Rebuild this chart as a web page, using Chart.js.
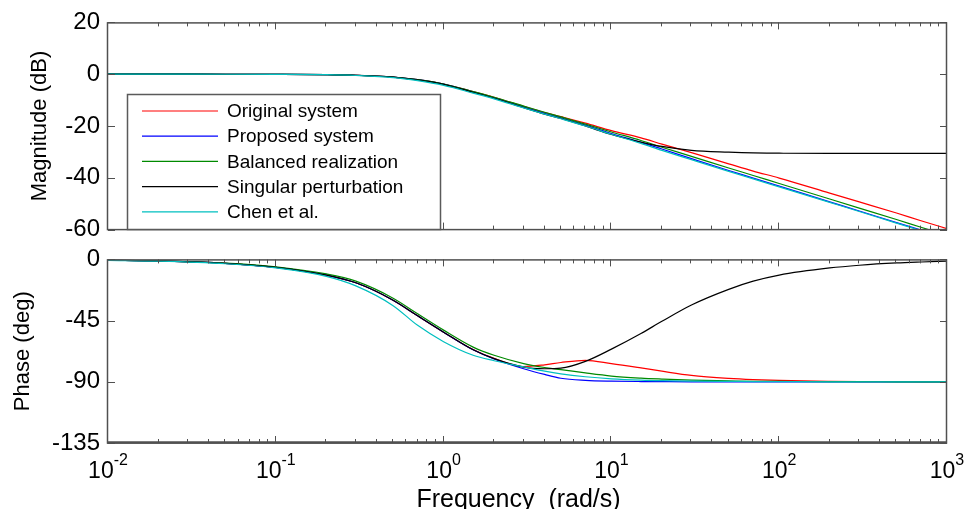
<!DOCTYPE html>
<html><head><meta charset="utf-8">
<script src="https://cdn.jsdelivr.net/npm/chart.js@4.4.0/dist/chart.umd.min.js"></script>
<style>
html,body{margin:0;padding:0;background:#fff;}
#wrap{position:relative;width:970px;height:509px;overflow:hidden;background:#fff;}
#c1{position:absolute;left:0;top:0;}
#c2{position:absolute;left:0;top:237px;}
</style></head><body>
<div id="wrap"><canvas id="c1" width="970" height="252"></canvas><canvas id="c2" width="970" height="272"></canvas></div>
<script>
// ---------------- data ----------------
const freq = [0.01, 0.02, 0.05, 0.1, 0.2, 0.3, 0.5, 0.7, 1, 1.5, 2, 3, 4, 5, 7, 10, 15, 20, 30, 50, 70, 100, 200, 300, 500, 700, 1000];

const magOriginal = [0, 0, -0.01, -0.04, -0.17, -0.4, -1.1, -2.1, -3.8, -6.7, -8.9, -12.4, -14.8, -16.4, -18.9, -21.8, -24.6, -27.0, -30.3, -34.6, -37.4, -40.1, -45.9, -49.3, -53.6, -56.6, -59.6];
const magProposed = [0, 0, -0.01, -0.04, -0.17, -0.4, -1.1, -2.1, -3.8, -6.8, -9.1, -12.7, -15.1, -16.8, -19.6, -22.9, -26.3, -28.9, -32.6, -37.2, -40.1, -43.2, -49.3, -52.8, -57.3, -60.2, -63.3];
const magBalanced = [0, 0, -0.01, -0.04, -0.17, -0.4, -1.1, -2.1, -3.8, -6.7, -8.9, -12.3, -14.7, -16.5, -19.3, -22.3, -25.6, -28.2, -31.7, -36.2, -39.1, -42.2, -48.2, -51.7, -56.1, -59.1, -62.2];
const magSingular = [0, 0, -0.01, -0.04, -0.17, -0.4, -1.1, -2.2, -3.9, -7.0, -9.3, -12.9, -15.4, -17.1, -20.0, -23.3, -26.2, -27.9, -29.4, -30.1, -30.4, -30.5, -30.6, -30.6, -30.6, -30.6, -30.6];
const magChen     = [0, 0, -0.01, -0.05, -0.2, -0.5, -1.3, -2.5, -4.3, -7.3, -9.5, -13.0, -15.4, -17.2, -20.0, -23.2, -26.7, -29.4, -33.0, -37.5, -40.4, -43.5, -49.5, -53.0, -57.5, -60.4, -63.5];

const phOriginal = [-0.6, -1.2, -2.9, -5.8, -11.5, -17.2, -30.0, -41.5, -53.5, -66.3, -72.8, -78.8, -77.5, -75.8, -74.2, -76.6, -79.8, -82.2, -85.3, -87.5, -88.4, -89.0, -89.6, -89.8, -89.9, -90.0, -90.0];
const phProposed = [-0.6, -1.2, -2.9, -5.8, -11.5, -17.2, -30.0, -41.5, -53.5, -66.5, -73.2, -80.4, -84.6, -87.4, -88.9, -89.5, -89.8, -89.9, -90.0, -90.0, -90.0, -90.0, -90.0, -90.0, -90.0, -90.0, -90.0];
const phBalanced = [-0.5, -1.1, -2.7, -5.4, -10.7, -16.0, -28.5, -40.0, -52.0, -64.5, -70.5, -76.6, -79.5, -81.0, -83.5, -85.8, -87.3, -88.0, -88.8, -89.3, -89.6, -89.7, -89.9, -89.9, -90.0, -90.0, -90.0];
const phSingular = [-0.6, -1.2, -2.9, -5.8, -11.5, -17.2, -30.0, -41.5, -53.5, -66.5, -73.0, -79.2, -80.4, -80.0, -75.0, -66.0, -54.5, -45.5, -33.5, -22.0, -16.0, -11.5, -6.3, -4.3, -2.6, -1.9, -1.3];
const phChen     = [-0.7, -1.3, -3.2, -6.3, -12.5, -19.5, -34.0, -48.5, -60.5, -70.5, -74.5, -79.0, -82.2, -84.2, -86.3, -87.8, -88.8, -89.2, -89.5, -89.7, -89.8, -89.9, -90.0, -90.0, -90.0, -90.0, -90.0];

const seriesNames  = ['Original system', 'Proposed system', 'Balanced realization', 'Singular perturbation', 'Chen et al.'];
const seriesColors = ['#ff0000', '#0000ff', '#008a00', '#000000', '#00bfbf'];

const magTicks   = [20, 0, -20, -40, -60];
const phaseTicks = [0, -45, -90, -135];
const freqTicks  = [0.01, 0.1, 1, 10, 100, 1000];
const freqTickExp = ['-2', '-1', '0', '1', '2', '3'];

const magTitle = 'Magnitude (dB)';
const phaseTitle = 'Phase (deg)';
const freqTitle = 'Frequency  (rad/s)';

// ---------------- styling helpers ----------------
const fontFam = '"Liberation Sans", Arial, Helvetica, sans-serif';
const axisColor = '#505050';

function makeDatasets(values) {
  return values.map((vals, i) => ({
    label: seriesNames[i],
    data: freq.map((f, j) => ({x: f, y: vals[j]})),
    borderColor: seriesColors[i],
    backgroundColor: seriesColors[i],
    borderWidth: 1.2,
    pointRadius: 0,
    fill: false,
    cubicInterpolationMode: 'monotone',
    order: values.length - i
  }));
}

const framePlugin = {
  id: 'frame',
  afterDraw(chart, args, opts) {
    const {ctx, chartArea: a, scales} = chart;
    const xs = scales.x, ys = scales.y;
    ctx.save();
    ctx.strokeStyle = axisColor;
    ctx.lineWidth = 1;
    ctx.beginPath();
    const lo = Math.log10(xs.min), hi = Math.log10(xs.max);
    for (let e = Math.floor(lo); e <= hi; e++) {
      for (let m = 1; m <= 9; m++) {
        const v = m * Math.pow(10, e);
        if (v > xs.max * 1.0001) break;
        const px = Math.round(xs.getPixelForValue(v)) - 0.5;
        const len = m === 1 ? 7 : 4;
        ctx.moveTo(px, a.top); ctx.lineTo(px, a.top + len);
        ctx.moveTo(px, a.bottom); ctx.lineTo(px, a.bottom - len);
      }
    }
    ys.ticks.forEach(t => {
      const py = Math.round(ys.getPixelForValue(t.value)) + 0.5;
      ctx.moveTo(a.left, py); ctx.lineTo(a.left + 7, py);
      ctx.moveTo(a.right, py); ctx.lineTo(a.right - 7, py);
    });
    ctx.stroke();
    ctx.lineWidth = 1.5;
    ctx.strokeRect(a.left - 0.5, a.top + 0.5, a.right - a.left, a.bottom - a.top - 0.5);
    if (opts.thickBottom) {
      ctx.lineWidth = 2.5;
      ctx.beginPath();
      ctx.moveTo(a.left - 1, a.bottom - 0.5); ctx.lineTo(a.right, a.bottom - 0.5);
      ctx.stroke();
    }
    ctx.restore();

    if (opts.legend) {
      ctx.save();
      const bx = 127.5, by = 94.5, bw = 313, bh = 135;
      ctx.fillStyle = '#ffffff';
      ctx.fillRect(bx, by, bw, bh);
      ctx.strokeStyle = '#5a5a5a';
      ctx.lineWidth = 1.5;
      ctx.strokeRect(bx, by, bw, bh);
      ctx.font = '19px ' + fontFam;
      ctx.textBaseline = 'middle';
      ctx.textAlign = 'left';
      chart.data.datasets.forEach((d, i) => {
        const y = 111 + i * 25.2;
        ctx.strokeStyle = d.borderColor;
        ctx.lineWidth = 1.2;
        ctx.beginPath();
        ctx.moveTo(142, y); ctx.lineTo(218, y);
        ctx.stroke();
        ctx.fillStyle = '#000';
        ctx.fillText(d.label, 227, y + 1);
      });
      ctx.restore();
    }

    if (opts.xlabels) {
      ctx.save();
      ctx.fillStyle = '#000';
      ctx.textBaseline = 'alphabetic';
      ctx.textAlign = 'left';
      const baseY = a.bottom + 35, supY = a.bottom + 22;
      freqTicks.forEach((v, i) => {
        const px = xs.getPixelForValue(v);
        ctx.font = '23px ' + fontFam;
        const wb = ctx.measureText('10').width;
        ctx.font = '16px ' + fontFam;
        const we = ctx.measureText(freqTickExp[i]).width;
        const x0 = px - (wb + we) / 2;
        ctx.font = '23px ' + fontFam;
        ctx.fillText('10', x0, baseY);
        ctx.font = '16px ' + fontFam;
        ctx.fillText(freqTickExp[i], x0 + wb, supY);
      });
      ctx.font = '25px ' + fontFam;
      ctx.textAlign = 'center';
      ctx.fillText(freqTitle, (a.left + a.right) / 2 - 9, a.bottom + 64);
      ctx.restore();
    }
  }
};

function makeOptions(cfg) {
  return {
    responsive: false,
    animation: false,
    devicePixelRatio: 1,
    events: [],
    layout: {padding: cfg.padding},
    plugins: {
      legend: {display: false},
      tooltip: {enabled: false},
      frame: cfg.frame
    },
    scales: {
      x: {type: 'logarithmic', min: 0.01, max: 1000, display: false},
      y: {
        type: 'linear', min: cfg.min, max: cfg.max,
        afterBuildTicks: s => { s.ticks = cfg.ticks.map(v => ({value: v})); },
        afterFit: s => { s.width = 108; },
        grid: {display: false, drawTicks: false},
        border: {display: false},
        ticks: {color: '#000', padding: 8, font: {family: fontFam, size: 24}},
        title: {display: true, text: cfg.title, color: '#000',
                font: {family: fontFam, size: 22}, padding: {top: cfg.titlePad, bottom: 0}}
      }
    }
  };
}

new Chart(document.getElementById('c1'), {
  type: 'line',
  data: {datasets: makeDatasets([magOriginal, magProposed, magBalanced, magSingular, magChen])},
  options: makeOptions({padding: {left: 0, right: 23, top: 21, bottom: 17}, min: -60, max: 20,
    ticks: magTicks, title: magTitle, titlePad: 26.8, frame: {legend: true}}),
  plugins: [framePlugin]
});

new Chart(document.getElementById('c2'), {
  type: 'line',
  data: {datasets: makeDatasets([phOriginal, phProposed, phBalanced, phSingular, phChen])},
  options: makeOptions({padding: {left: 0, right: 23, top: 17, bottom: 66}, min: -135, max: 0,
    ticks: phaseTicks, title: phaseTitle, titlePad: 9.8, frame: {xlabels: true, thickBottom: true}}),
  plugins: [framePlugin]
});
</script>
</body></html>
